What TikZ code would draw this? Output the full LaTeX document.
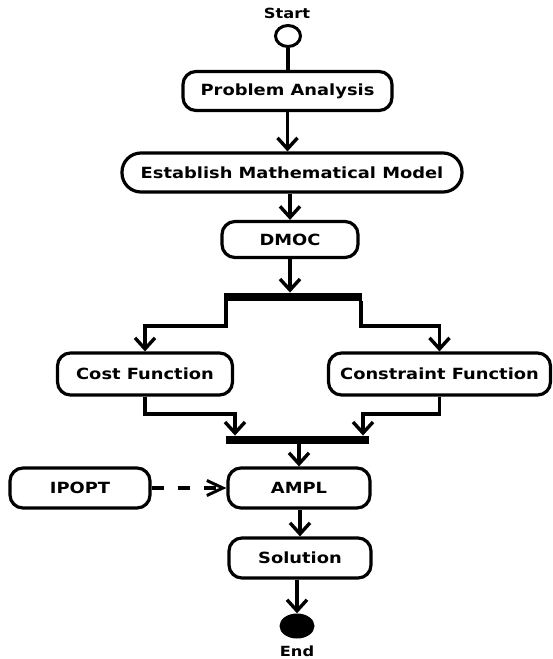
\documentclass[tikz,border=0pt]{standalone}
\usepackage{fontspec}
\setmainfont{DejaVu Sans}[FakeStretch=1.16]
\usetikzlibrary{arrows.meta,shapes.geometric}
\begin{document}
\begin{tikzpicture}[x=1pt,y=-1pt,
  act/.style={draw, line width=3.2pt, rounded corners=13pt, inner sep=0pt,
    minimum height=39pt, font=\fontsize{15.4}{17}\selectfont\bfseries},
  syncbar/.style={fill=black, inner sep=0pt, minimum height=8.5pt},
  flow/.style={line width=3.6pt, -{Straight Barb[length=11pt,width=20pt,line width=3.4pt]}},
  link/.style={line width=3.6pt},
  lbl/.style={font=\fontsize{14}{16}\selectfont\bfseries}]
\useasboundingbox (0,0) rectangle (553,659);

% start and end markers
\node[lbl] (startlbl) at (287,13) {Start};
\node[draw, ellipse, line width=3pt, minimum width=25pt, minimum height=21pt, inner sep=0pt] (start) at (288,36) {};
\node[fill=black, ellipse, minimum width=35pt, minimum height=25pt, inner sep=0pt] (end) at (297,626) {};
\node[lbl] (endlbl) at (297,651) {End};

% activities
\node[act, minimum width=209pt] (pa) at (287.5,91) {Problem Analysis};
\node[act, minimum width=340pt, rounded corners=19pt] (emm) at (292,172.5) {Establish Mathematical Model};
\node[act, minimum width=136pt, minimum height=36pt] (dmoc) at (290,239.5) {DMOC};
\node[act, minimum width=175pt, minimum height=42pt] (cost) at (145,374) {Cost Function};
\node[act, minimum width=222pt, minimum height=42pt] (constr) at (439.5,374) {Constraint Function};
\node[act, minimum width=140pt, minimum height=40pt] (ipopt) at (80,488) {IPOPT};
\node[act, minimum width=142pt, minimum height=40pt] (ampl) at (299,488) {AMPL};
\node[act, minimum width=142pt, minimum height=40pt] (sol) at (300,558) {Solution};

% fork and join bars
\node[syncbar, minimum width=138pt] (fork) at (293,297) {};
\node[syncbar, minimum width=143pt] (join) at (297,440) {};

% turning points of the parallel branches
\coordinate (fl) at (226,326);
\coordinate (fr) at (361,326);
\coordinate (jl) at (235,414);
\coordinate (jr) at (363,414);

% main flow
\draw[link] (start) -- (start |- pa.north);
\draw[flow] (pa.south) -- (pa.south |- emm.north);
\draw[flow] (dmoc.north |- emm.south) -- (dmoc.north);
\draw[flow] (dmoc.south) -- (dmoc.south |- fork.north);

% fork into the two functions
\draw[flow] (fl |- fork.south) -- (fl) -| (cost.north);
\draw[flow] (fr |- fork.south) -- (fr) -| (constr.north);

% join of the two functions
\draw[flow] (cost.south) |- (jl) -- (jl |- join.north);
\draw[flow] (constr.south) |- (jr) -- (jr |- join.north);

\draw[flow] (join.south -| ampl.north) -- (ampl.north);
\draw[line width=3.2pt, dash pattern=on 12pt off 14pt,
  -{Straight Barb[length=16pt,width=15pt,line width=3pt]}] (ipopt.east) -- (ampl.west);
\draw[flow] (ampl.south -| sol.north) -- (sol.north);
\draw[flow] (sol.south -| end.north) -- (end.north);
\end{tikzpicture}
\end{document}
